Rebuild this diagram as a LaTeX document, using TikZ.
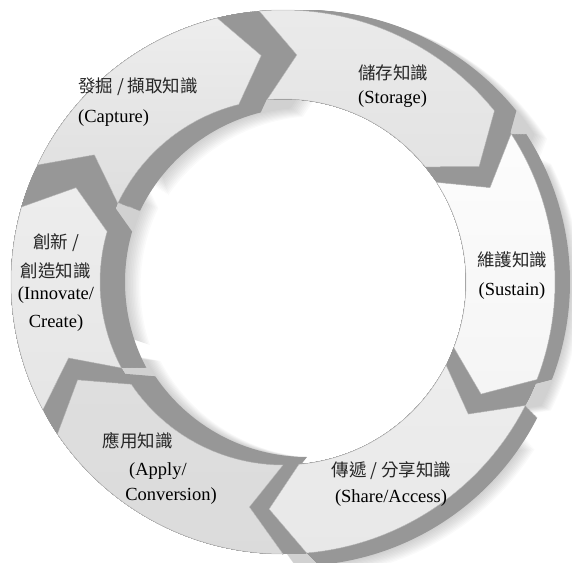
\documentclass[tikz,border=0pt]{standalone}
\usepackage{fontspec}
\setmainfont{Liberation Serif}
\newfontfamily\cjkfont{Noto Sans CJK TC}
\def\Ro{272}
\def\Ri{183}
\def\Rm{227.5}
\def\dd{8.5}
% chevron ring segment: tail corners at #1, head corners at #2 (clockwise)
\newcommand\segpath[2]{(#1:\Ro) arc[start angle=#1, end angle=#2, radius=\Ro] -- ({#2-\dd}:\Rm) -- (#2:\Ri) arc[start angle=#2, end angle=#1, radius=\Ri] -- ({#1-\dd}:\Rm) -- cycle}
\newcommand\ringshadow[5]{%
  \foreach \i in {1,...,10}{%
    \fill[black, opacity=0.018, shift={({#3*(1+0.05*\i)+0.3*\i},{#4*(1+0.05*\i)-0.5*\i})}, rotate={-#5}] \segpath{#1}{#2};}}
\newcommand\ringside[5]{%
  \foreach \i in {0,...,20}{%
    \fill[sidefill, shift={({#3*\i/20},{#4*\i/20})}] \segpath{#1}{#2};
    \fill[sidefill, rotate={-#5*\i/20}] \segpath{#1}{#2};}}
\tikzset{
  sidefill/.style={fill=side},
  face/.style={draw=edge, line width=0.5pt},
  en/.style={font=\fontsize{18.5}{22}\selectfont, text=black, inner sep=0pt},
  zh/.style={font=\fontsize{17.5}{22}\selectfont\cjkfont, text=zhtext, inner sep=0pt},
}
\definecolor{side}{HTML}{979797}
\definecolor{edge}{HTML}{C4C4C4}
\definecolor{zhtext}{HTML}{262626}
\begin{document}
\begin{tikzpicture}[x=1pt,y=1pt]
\useasboundingbox (-283,-280) rectangle (289,282);
% soft shadows
\ringshadow{154.5}{104}{22}{-8}{9}
\ringshadow{95}{39}{22}{0}{6}
\ringshadow{33}{-21}{15}{0}{6}
\ringshadow{-27}{-85}{12}{-12}{5}
\ringshadow{-90}{-146}{24}{8}{6}
\ringshadow{208}{164}{25}{0}{9.5}
% extruded sides
\ringside{154.5}{104}{22}{-8}{9}
\ringside{95}{39}{22}{0}{6}
\ringside{33}{-21}{15}{0}{6}
\ringside{-27}{-85}{12}{-12}{5}
\ringside{-90}{-146}{24}{8}{6}
\ringside{208}{164}{25}{0}{9.5}
% faces
\filldraw[face, top color=white!93!black, bottom color=white!87!black] \segpath{154.5}{104};
\filldraw[face, top color=white!92!black, bottom color=white!89!black] \segpath{95}{39};
\filldraw[face, top color=white!99!black, bottom color=white!96!black] \segpath{33}{-21};
\filldraw[face, top color=white!93!black, bottom color=white!91!black] \segpath{-27}{-85};
\filldraw[face, top color=white!87!black, bottom color=white!86!black] \segpath{-90}{-146};
\filldraw[face, top color=white!93!black, bottom color=white!90!black] \segpath{208}{164};
% labels
\node[zh, anchor=west] (capzh) at (-205,195) {發掘 / 擷取知識};
\node[en, anchor=west] (capen) at (-205,164) {(Capture)};
\node[zh, anchor=west] (stozh) at (75,209) {儲存知識};
\node[en, anchor=west] (stoen) at (75,183) {(Storage)};
\node[zh] (suszh) at (229,22) {維護知識};
\node[en] (susen) at (229,-9) {(Sustain)};
\node[zh] (shazh) at (108.5,-189) {傳遞 / 分享知識};
\node[en] (shaen) at (108,-216) {(Share/Access)};
\node[zh] (appzh) at (-145,-159) {應用知識};
\node[en] (appen) at (-125,-189) {(Apply/};
\node[en] (appen2) at (-112,-214) {Conversion)};
\node[zh] (innzh) at (-227,39) {創新 /};
\node[zh] (innzh2) at (-227,11) {創造知識};
\node[en] (innen) at (-227,-13) {(Innovate/};
\node[en] (innen2) at (-227,-41) {Create)};
\end{tikzpicture}
\end{document}
